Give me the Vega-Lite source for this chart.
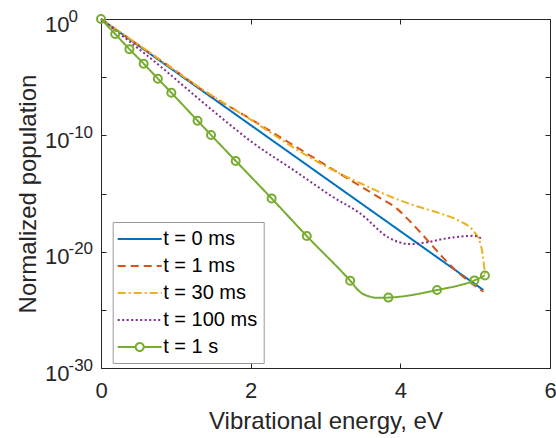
{
  "$schema": "https://vega.github.io/schema/vega-lite/v6.json",
  "autosize": "none",
  "width": 449,
  "height": 349,
  "padding": {"left": 101, "top": 19, "right": 6, "bottom": 70},
  "background": "white",
  "config": {
    "font": "Liberation Sans",
    "view": {"stroke": null},
    "axis": {"labelColor": "#262626", "titleColor": "#262626", "domainColor": "#262626", "tickColor": "#262626", "grid": false, "labelFont": "Liberation Sans", "titleFont": "Liberation Sans", "titleFontWeight": "normal", "domainWidth": 1, "tickWidth": 1}
  },
  "datasets": {
    "curves": [
      {"series": "t = 0 ms", "energy": 0, "population": 1},
      {"series": "t = 0 ms", "energy": 5.11, "population": 5.01e-24},
      {"series": "t = 1 ms", "energy": 0, "population": 1},
      {"series": "t = 1 ms", "energy": 0.5, "population": 5.623e-3},
      {"series": "t = 1 ms", "energy": 1.0, "population": 3.548e-5},
      {"series": "t = 1 ms", "energy": 1.32, "population": 1.122e-6},
      {"series": "t = 1 ms", "energy": 2.0, "population": 2.512e-9},
      {"series": "t = 1 ms", "energy": 2.93, "population": 5.370e-13},
      {"series": "t = 1 ms", "energy": 3.33, "population": 1.445e-14},
      {"series": "t = 1 ms", "energy": 3.73, "population": 3.981e-16},
      {"series": "t = 1 ms", "energy": 3.95, "population": 5.248e-17},
      {"series": "t = 1 ms", "energy": 4.09, "population": 7.244e-18},
      {"series": "t = 1 ms", "energy": 4.26, "population": 5.129e-19},
      {"series": "t = 1 ms", "energy": 4.44, "population": 2.630e-20},
      {"series": "t = 1 ms", "energy": 4.58, "population": 2.630e-21},
      {"series": "t = 1 ms", "energy": 4.75, "population": 2.2e-22},
      {"series": "t = 1 ms", "energy": 5.11, "population": 3.548e-24},
      {"series": "t = 30 ms", "energy": 0, "population": 1},
      {"series": "t = 30 ms", "energy": 0.5, "population": 6.310e-3},
      {"series": "t = 30 ms", "energy": 1.32, "population": 1.259e-6},
      {"series": "t = 30 ms", "energy": 2.0, "population": 2.239e-9},
      {"series": "t = 30 ms", "energy": 2.66, "population": 3.981e-12},
      {"series": "t = 30 ms", "energy": 3.1, "population": 1e-13},
      {"series": "t = 30 ms", "energy": 3.46, "population": 7.943e-15},
      {"series": "t = 30 ms", "energy": 3.77, "population": 1e-15},
      {"series": "t = 30 ms", "energy": 4.0, "population": 2.512e-16},
      {"series": "t = 30 ms", "energy": 4.22, "population": 7.943e-17},
      {"series": "t = 30 ms", "energy": 4.53, "population": 1.995e-17},
      {"series": "t = 30 ms", "energy": 4.8, "population": 3.981e-18},
      {"series": "t = 30 ms", "energy": 4.96, "population": 7.943e-19},
      {"series": "t = 30 ms", "energy": 5.07, "population": 5.012e-20},
      {"series": "t = 30 ms", "energy": 5.11, "population": 1.995e-21},
      {"series": "t = 30 ms", "energy": 5.13, "population": 1.259e-22},
      {"series": "t = 100 ms", "energy": 0, "population": 1},
      {"series": "t = 100 ms", "energy": 0.365, "population": 1.413e-2},
      {"series": "t = 100 ms", "energy": 0.8, "population": 7.943e-5},
      {"series": "t = 100 ms", "energy": 1.257, "population": 2.512e-7},
      {"series": "t = 100 ms", "energy": 1.63, "population": 2.512e-9},
      {"series": "t = 100 ms", "energy": 2.0, "population": 3.162e-11},
      {"series": "t = 100 ms", "energy": 2.6, "population": 7.943e-14},
      {"series": "t = 100 ms", "energy": 3.1, "population": 5.012e-16},
      {"series": "t = 100 ms", "energy": 3.46, "population": 1.995e-17},
      {"series": "t = 100 ms", "energy": 3.86, "population": 1.413e-19},
      {"series": "t = 100 ms", "energy": 4.13, "population": 4.467e-20},
      {"series": "t = 100 ms", "energy": 4.35, "population": 6.310e-20},
      {"series": "t = 100 ms", "energy": 4.58, "population": 1.259e-19},
      {"series": "t = 100 ms", "energy": 4.89, "population": 2.188e-19},
      {"series": "t = 100 ms", "energy": 4.98, "population": 2.291e-19},
      {"series": "t = 100 ms", "energy": 5.11, "population": 1.122e-19},
      {"series": "t = 1 s", "energy": 0, "population": 1},
      {"series": "t = 1 s", "energy": 0.19, "population": 5.129e-2},
      {"series": "t = 1 s", "energy": 0.38, "population": 2.570e-3},
      {"series": "t = 1 s", "energy": 0.57, "population": 1.445e-4},
      {"series": "t = 1 s", "energy": 0.76, "population": 7.413e-6},
      {"series": "t = 1 s", "energy": 0.94, "population": 4.571e-7},
      {"series": "t = 1 s", "energy": 1.29, "population": 1.820e-9},
      {"series": "t = 1 s", "energy": 1.47, "population": 1.072e-10},
      {"series": "t = 1 s", "energy": 1.8, "population": 6.310e-13},
      {"series": "t = 1 s", "energy": 2.28, "population": 3.802e-16},
      {"series": "t = 1 s", "energy": 2.75, "population": 2.188e-19},
      {"series": "t = 1 s", "energy": 3.33, "population": 3.162e-23},
      {"series": "t = 1 s", "energy": 3.46, "population": 3.548e-24},
      {"series": "t = 1 s", "energy": 3.6, "population": 1.318e-24},
      {"series": "t = 1 s", "energy": 3.7, "population": 1.072e-24},
      {"series": "t = 1 s", "energy": 3.84, "population": 1.122e-24},
      {"series": "t = 1 s", "energy": 4.49, "population": 5.012e-24},
      {"series": "t = 1 s", "energy": 4.99, "population": 3.388e-23},
      {"series": "t = 1 s", "energy": 5.13, "population": 8.913e-23}
    ],
    "markers": [
      {"series": "t = 1 s", "energy": 0, "population": 1},
      {"series": "t = 1 s", "energy": 0.19, "population": 5.129e-2},
      {"series": "t = 1 s", "energy": 0.38, "population": 2.570e-3},
      {"series": "t = 1 s", "energy": 0.57, "population": 1.445e-4},
      {"series": "t = 1 s", "energy": 0.76, "population": 7.413e-6},
      {"series": "t = 1 s", "energy": 0.94, "population": 4.571e-7},
      {"series": "t = 1 s", "energy": 1.29, "population": 1.820e-9},
      {"series": "t = 1 s", "energy": 1.47, "population": 1.072e-10},
      {"series": "t = 1 s", "energy": 1.8, "population": 6.310e-13},
      {"series": "t = 1 s", "energy": 2.28, "population": 3.802e-16},
      {"series": "t = 1 s", "energy": 2.75, "population": 2.188e-19},
      {"series": "t = 1 s", "energy": 3.33, "population": 3.162e-23},
      {"series": "t = 1 s", "energy": 3.84, "population": 1.122e-24},
      {"series": "t = 1 s", "energy": 4.49, "population": 5.012e-24},
      {"series": "t = 1 s", "energy": 4.99, "population": 3.388e-23},
      {"series": "t = 1 s", "energy": 5.13, "population": 8.913e-23}
    ]
  },
  "resolve": {"axis": {"x": "independent", "y": "independent"}},
  "layer": [
    {
      "data": {"name": "curves"},
      "mark": {"type": "line", "strokeWidth": 2, "interpolate": "monotone", "clip": false, "strokeCap": "butt"},
      "encoding": {
        "x": {"field": "energy", "type": "quantitative", "scale": {"domain": [0, 6], "nice": false},
          "axis": {"orient": "bottom", "values": [0, 2, 4, 6], "tickSize": -5, "labelFontSize": 22, "labelPadding": 17, "title": "Vibrational energy, eV", "titleFontSize": 24, "titlePadding": 8, "labelFlush": false}},
        "y": {"field": "population", "type": "quantitative", "scale": {"type": "log", "domain": [1e-30, 1], "nice": false},
          "axis": {"orient": "left", "values": [1, 1e-5, 1e-10, 1e-15, 1e-20, 1e-25, 1e-30], "tickSize": -5, "labelFontSize": 22, "labelPadding": 37, "labelOffset": 5, "labelFlush": false,
            "labelExpr": "round(log(datum.value)/LN10) % 10 == 0 ? '10' : ''",
            "title": "Normalized population", "titleFontSize": 24, "titlePadding": 4}},
        "color": {"field": "series", "type": "nominal",
          "scale": {"domain": ["t = 0 ms", "t = 1 ms", "t = 30 ms", "t = 100 ms", "t = 1 s"], "range": ["#0072BD", "#D95319", "#EDB120", "#7E2F8E", "#77AC30"]},
          "legend": {"title": null, "orient": "none", "legendX": 11.7, "legendY": 203, "symbolType": "stroke", "symbolSize": 400, "symbolStrokeWidth": 2, "symbolOffset": 10, "labelFontSize": 20, "labelColor": "#000000", "labelOffset": 12.5, "rowPadding": 6, "padding": 6, "strokeColor": "#999999", "fillColor": "white",
            "encode": {"symbols": {"update": {"fill": {"value": "transparent"}, "shape": {"signal": "datum.value === 't = 1 s' ? 'M-2.2,0L-0.4,0M0.4,0L2.2,0M-0.4,0A0.4,0.4,0,1,1,0.4,0A0.4,0.4,0,1,1,-0.4,0' : 'M-2.2,0L2.2,0'"}}}}}},
        "strokeDash": {"field": "series", "type": "nominal",
          "scale": {"domain": ["t = 0 ms", "t = 1 ms", "t = 30 ms", "t = 100 ms", "t = 1 s"], "range": [[1, 0], [8, 5], [8, 3, 2, 3], [2, 2.5], [1, 0]]},
          "legend": {"title": null, "orient": "none", "legendX": 11.7, "legendY": 203, "symbolType": "stroke", "symbolSize": 400, "symbolStrokeWidth": 2, "symbolOffset": 10, "labelFontSize": 20, "labelColor": "#000000", "labelOffset": 12.5, "rowPadding": 6, "padding": 6, "strokeColor": "#999999", "fillColor": "white"}}
      }
    },
    {
      "data": {"name": "markers"},
      "mark": {"type": "point", "shape": "circle", "filled": false, "color": "#77AC30", "strokeWidth": 2, "size": 64, "clip": false, "opacity": 1},
      "encoding": {
        "x": {"field": "energy", "type": "quantitative", "axis": null},
        "y": {"field": "population", "type": "quantitative", "axis": {"orient": "left", "values": [1, 1e-5, 1e-10, 1e-15, 1e-20, 1e-25, 1e-30], "ticks": false, "domain": false, "labelFontSize": 17, "labelAlign": "left", "labelPadding": 33, "labelOffset": -3, "labelFlush": false, "title": null,
          "labelExpr": "round(log(datum.value)/LN10) % 10 == 0 ? '' + round(log(datum.value)/LN10) : ''"}}
      }
    },
    {
      "data": {"name": "markers"},
      "mark": {"type": "point", "opacity": 0},
      "encoding": {
        "x": {"field": "energy", "type": "quantitative", "axis": {"orient": "top", "values": [0, 2, 4, 6], "tickSize": -5, "labels": false, "title": null}},
        "y": {"field": "population", "type": "quantitative", "axis": {"orient": "right", "values": [1, 1e-5, 1e-10, 1e-15, 1e-20, 1e-25, 1e-30], "tickSize": -5, "labels": false, "title": null}}
      }
    }
  ]
}
